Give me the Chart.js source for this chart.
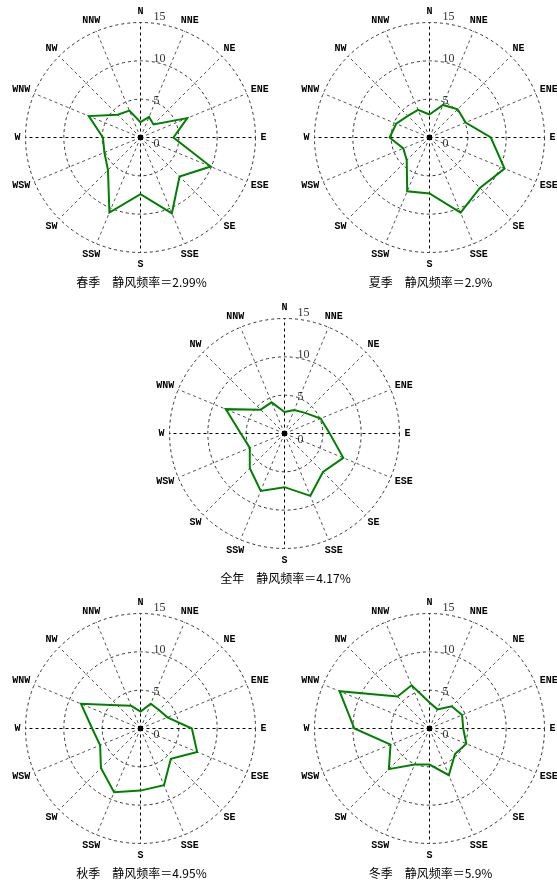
<!DOCTYPE html>
<html>
<head>
<meta charset="utf-8">
<script src="https://cdn.jsdelivr.net/npm/chart.js@4.4.1/dist/chart.umd.min.js"></script>
<style>
  html, body { margin: 0; padding: 0; background: #fff; overflow: hidden; }
  #page { position: relative; width: 557px; height: 886px; overflow: hidden; background: #fff; }
  #page canvas { position: absolute; }
</style>
</head>
<body>
<div id="page"></div>
<script>
// 16 compass sectors, clockwise from north
const directions = ['N', 'NNE', 'NE', 'ENE', 'E', 'ESE', 'SE', 'SSE', 'S', 'SSW', 'SW', 'WSW', 'W', 'WNW', 'NW', 'NNW'];
// radial frequency ticks (%)
const radialTicks = [0, 5, 10, 15];

// wind direction frequency (%) per sector
const spring = [2.0, 2.9, 2.4, 6.6, 4.3, 9.9, 7.2, 10.7, 7.4, 10.6, 6.0, 5.1, 4.9, 7.3, 4.2, 3.8];
const summer = [3.0, 4.6, 5.2, 5.1, 8.0, 10.6, 9.3, 10.6, 7.3, 7.6, 4.2, 3.7, 5.2, 4.7, 4.0, 3.9];
const annual = [2.8, 3.3, 3.8, 5.1, 5.9, 8.3, 7.1, 8.8, 7.0, 8.1, 6.4, 4.9, 5.7, 8.3, 4.4, 4.4];
const autumn = [2.2, 3.5, 3.4, 3.8, 6.7, 8.0, 5.6, 8.0, 8.1, 9.0, 7.3, 5.7, 6.3, 8.4, 4.3, 3.2];
const winter = [3.4, 2.7, 4.1, 4.6, 4.4, 5.2, 4.7, 6.6, 4.7, 5.1, 7.5, 5.5, 9.8, 12.7, 5.9, 6.1];

const periodNames = ['春季', '夏季', '全年', '秋季', '冬季'];
const calmRates = ['2.99', '2.9', '4.17', '4.95', '5.9'];
const seriesList = [spring, summer, annual, autumn, winter];

// panel centres on the page
const panelCentres = [[140, 137], [429, 137], [284, 433], [140, 728], [429, 728]];
const RADIUS = 115;
const CANVAS_W = 280, CANVAS_H = 300;

// labels, centre marker and caption drawn around the radial scale
const roseDecor = {
  id: 'roseDecor',
  beforeDraw(chart) {
    chart.ctx.save();
    chart.ctx.translate(0.5, 0.5);
  },
  afterDraw(chart, args, opts) {
    const ctx = chart.ctx;
    const r = chart.scales.r;
    const cx = r.xCenter, cy = r.yCenter;

    ctx.fillStyle = '#000';
    ctx.fillRect(cx - 2.5, cy - 2.5, 5, 5);

    // compass labels just outside the outer ring
    ctx.textAlign = 'center';
    ctx.textBaseline = 'middle';
    ctx.font = 'bold 10px "Liberation Mono", monospace';
    ctx.fillStyle = '#000';
    const base = r.drawingArea + 5;
    directions.forEach((d, i) => {
      const p = r.getPointPosition(i, base);
      const ux = (p.x - cx) / base, uy = (p.y - cy) / base;
      const w = ctx.measureText(d).width;
      ctx.fillText(d, cx + ux * (base + w / 2), cy + uy * (base + 6.5));
    });

    ctx.textAlign = 'left';
    ctx.font = '12px "Liberation Serif", serif';
    ctx.fillStyle = '#333';
    radialTicks.forEach(v => {
      const dist = r.getDistanceFromCenterForValue(v);
      ctx.fillText(String(v), cx + 13, cy + 6 - dist * 1.1);
    });

    ctx.textAlign = 'center';
    ctx.font = '12px "Noto Sans CJK SC", sans-serif';
    ctx.fillStyle = '#000';
    ctx.fillText(opts.caption, cx + 1, cy + 145);

    ctx.restore();
  }
};

const page = document.getElementById('page');

seriesList.forEach((series, k) => {
  const [cx, cy] = panelCentres[k];
  const canvas = document.createElement('canvas');
  canvas.width = CANVAS_W;
  canvas.height = CANVAS_H;
  canvas.style.left = (cx - CANVAS_W / 2) + 'px';
  canvas.style.top = (cy - 137) + 'px';
  page.appendChild(canvas);

  new Chart(canvas, {
    type: 'radar',
    data: {
      labels: directions,
      datasets: [{
        label: periodNames[k],
        data: series,
        borderColor: '#008000',
        borderWidth: 2,
        borderJoinStyle: 'miter',
        backgroundColor: 'rgba(0,0,0,0)',
        fill: false,
        pointRadius: 0,
        pointHoverRadius: 0,
        tension: 0
      }]
    },
    options: {
      responsive: false,
      animation: false,
      devicePixelRatio: 1,
      events: [],
      layout: {
        padding: {
          left: CANVAS_W / 2 - RADIUS,
          right: CANVAS_W / 2 - RADIUS,
          top: 137 - RADIUS,
          bottom: CANVAS_H - 137 - RADIUS
        }
      },
      plugins: {
        legend: { display: false },
        tooltip: { enabled: false },
        title: { display: false },
        roseDecor: { caption: periodNames[k] + '\u3000静风频率\uFF1D' + calmRates[k] + '%' }
      },
      scales: {
        r: {
          min: 0,
          max: 15,
          ticks: { display: false, stepSize: 5 },
          pointLabels: { display: false },
          grid: { circular: true, color: '#333', lineWidth: 1 },
          border: { dash: [3, 3] },
          angleLines: {
            display: true,
            lineWidth: 1,
            color: (c) => (c.index % 4 === 0 ? '#000' : '#555'),
            borderDash: [3, 3],
            borderDashOffset: 0
          }
        }
      }
    },
    plugins: [roseDecor]
  });
});
</script>
</body>
</html>
